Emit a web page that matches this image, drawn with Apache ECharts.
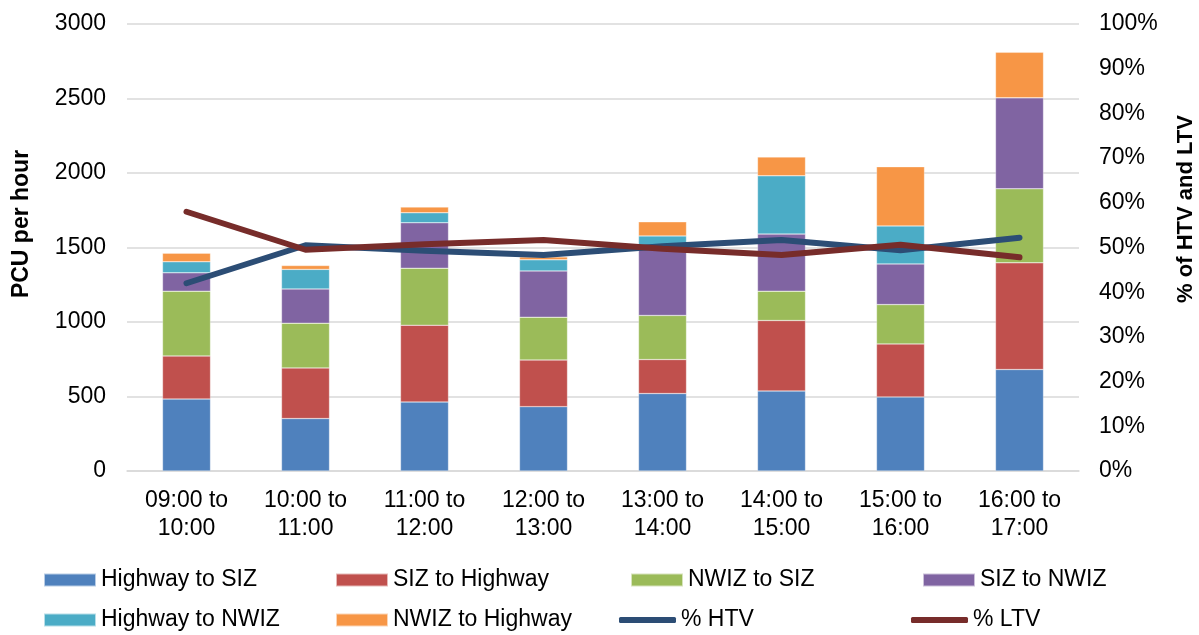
<!DOCTYPE html>
<html>
<head>
<meta charset="utf-8">
<script src="https://cdn.jsdelivr.net/npm/echarts@6/dist/echarts.min.js"></script>
<style>
  html, body { margin: 0; padding: 0; background: #fff; }
  #chart { width: 1199px; height: 635px; }
</style>
</head>
<body>
<div id="chart"></div>
<script>
// Hourly time slots
const categories = [
  '09:00 to\n10:00', '10:00 to\n11:00', '11:00 to\n12:00', '12:00 to\n13:00',
  '13:00 to\n14:00', '14:00 to\n15:00', '15:00 to\n16:00', '16:00 to\n17:00'
];

// Traffic flows (PCU per hour)
const highwayToSIZ   = [483, 352, 463, 432, 520, 537, 497, 681];
const sizToHighway   = [289, 340, 515, 313, 228, 473, 356, 716];
const nwizToSIZ      = [435, 300, 383, 287, 296, 197, 264, 497];
const sizToNWIZ      = [123, 230, 305, 311, 461, 383, 273, 611];
const highwayToNWIZ  = [74, 131, 67, 74, 73, 391, 255, 0];
const nwizToHighway  = [58, 26, 38, 20, 94, 126, 397, 305];

// Share of heavy / light vehicles (%)
const pctHTV = [42.0, 50.5, 49.3, 48.3, 50.3, 51.7, 49.4, 52.2];
const pctLTV = [58.0, 49.5, 50.7, 51.7, 49.7, 48.3, 50.6, 47.8];

// Axis ticks
const leftTicks = { min: 0, max: 3000, interval: 500 };
const rightTicks = { min: 0, max: 100, interval: 10 };

const FONT = '"Liberation Sans", Arial, Helvetica, sans-serif';
const FS = 23;

const barSeries = [
  ['Highway to SIZ', highwayToSIZ, '#4F81BD'],
  ['SIZ to Highway', sizToHighway, '#C0504D'],
  ['NWIZ to SIZ', nwizToSIZ, '#9BBB59'],
  ['SIZ to NWIZ', sizToNWIZ, '#8064A2'],
  ['Highway to NWIZ', highwayToNWIZ, '#4BACC6'],
  ['NWIZ to Highway', nwizToHighway, '#F79646']
].map(([name, data, color]) => ({
  name, type: 'bar', stack: 'flow', data, barWidth: 48,
  itemStyle: { color, borderColor: 'rgba(255,255,255,0.6)', borderWidth: 0.5 },
  emphasis: { disabled: true }
}));

const lineSeries = [
  ['% HTV', pctHTV, '#2C4D75'],
  ['% LTV', pctLTV, '#772C2A']
].map(([name, data, color]) => ({
  name, type: 'line', yAxisIndex: 1, data, symbol: 'none',
  lineStyle: { color, width: 6, cap: 'round', join: 'round' },
  itemStyle: { color },
  emphasis: { disabled: true },
  z: 5
}));

// Legend laid out in a 4 x 2 grid: [name, left, top, isLine]
const legendSlots = [
  ['Highway to SIZ', 43, 567, false], ['SIZ to Highway', 335, 567, false],
  ['NWIZ to SIZ', 630, 567, false], ['SIZ to NWIZ', 922, 567, false],
  ['Highway to NWIZ', 43, 607, false], ['NWIZ to Highway', 335, 607, false],
  ['% HTV', 619, 607, true], ['% LTV', 911, 607, true]
];
const legends = legendSlots.map(([name, left, top, isLine]) => ({
  data: [{ name, icon: isLine ? 'roundRect' : 'rect' }],
  left, top,
  itemWidth: isLine ? 57 : 52,
  itemHeight: isLine ? 6 : 13,
  itemGap: isLine ? 2 : 5,
  selectedMode: false,
  textStyle: { fontFamily: FONT, fontSize: FS, color: '#000', lineHeight: 26, padding: [0, 0, 0, 0] },
  padding: 0
}));

const chart = echarts.init(document.getElementById('chart'), null, { renderer: 'canvas' });
chart.setOption({
  animation: false,
  backgroundColor: '#fff',
  grid: { left: 127, right: 120, top: 24, bottom: 164 },
  legend: legends,
  xAxis: {
    type: 'category', data: categories,
    axisLine: { lineStyle: { color: '#d9d9d9', width: 1.5 } },
    axisTick: { show: false },
    axisLabel: { fontFamily: FONT, fontSize: FS, color: '#000', lineHeight: 28, margin: 16 }
  },
  yAxis: [
    {
      type: 'value', min: leftTicks.min, max: leftTicks.max, interval: leftTicks.interval,
      axisLine: { show: false }, axisTick: { show: false },
      splitLine: { lineStyle: { color: '#d9d9d9', width: 1.5 } },
      axisLabel: { fontFamily: FONT, fontSize: FS, color: '#000', margin: 21, formatter: v => String(v) }
    },
    {
      type: 'value', min: rightTicks.min, max: rightTicks.max, interval: rightTicks.interval,
      axisLine: { show: false }, axisTick: { show: false }, splitLine: { show: false },
      axisLabel: { fontFamily: FONT, fontSize: FS, color: '#000', margin: 20, formatter: '{value}%' }
    }
  ],
  graphic: [
    {
      type: 'text', x: 22, y: 224, rotation: Math.PI / 2,
      style: { text: 'PCU per hour', fontFamily: FONT, fontSize: FS, fontWeight: 'bold', fill: '#000', align: 'center', verticalAlign: 'middle' }
    },
    {
      type: 'text', x: 1186, y: 209, rotation: Math.PI / 2,
      style: { text: '% of HTV and LTV', fontFamily: FONT, fontSize: 22, fontWeight: 'bold', fill: '#000', align: 'center', verticalAlign: 'middle' }
    }
  ],
  series: [...barSeries, ...lineSeries]
});
</script>
</body>
</html>
